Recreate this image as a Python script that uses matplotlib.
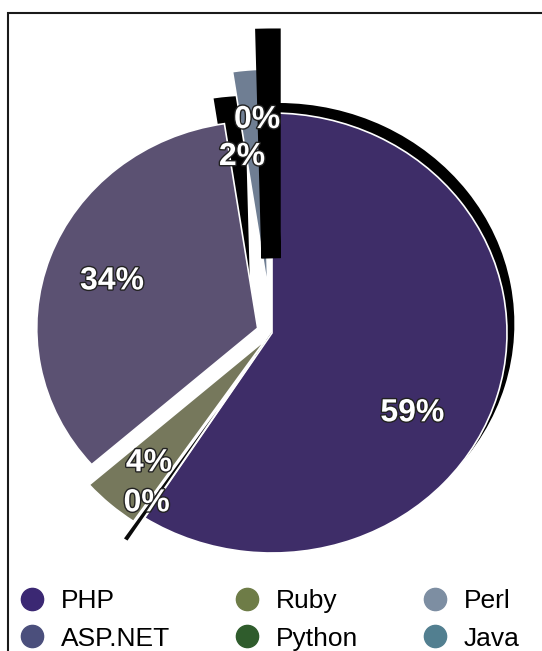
import matplotlib
matplotlib.use('Agg')
import matplotlib.pyplot as plt
import matplotlib.patheffects as pe
from matplotlib.lines import Line2D
from matplotlib.patches import Rectangle, Shadow
import numpy as np

# slices, clockwise from 12 o'clock
slices = ['PHP', 'Python', 'Ruby', 'ASP.NET', 'Perl', 'Java']
shares = [59, 0.4, 4, 34, 2, 0.4]
slice_colors = ['#3e2d68', '#0a0a0a', '#76785c', '#5b5172', '#6f7e93', '#0a0a0a']
explode = [0, 0.13, 0.04, 0.065, 0.2, 0.34]
slice_radius = [1, 1, 1, 0.94, 1, 1]

# legend (column-major order as in the picture)
legend_names = ['PHP', 'ASP.NET', 'Ruby', 'Python', 'Perl', 'Java']
legend_colors = ['#3b2873', '#4b4f7c', '#6e7c47', '#2f5c2c', '#7d8ea2', '#527f90']

# where the percentage labels sit (fraction of radius, degrees off the slice middle)
label_radius = [0.70, 0.94, 0.79, 0.72, 0.81, 0.97]
label_shift = [-15, -1, 0, 1, 4, 3]

W, H = 542, 651
fig = plt.figure(figsize=(W / 100, H / 100), dpi=100)
ax = fig.add_axes([0, 0, 1, 1])

# pie is slightly squashed (scanned 3D chart): radius 235 px wide, 220 px tall
cx, cy, rx, ry = 272, 333, 235, 220
wedges, texts, autotexts = ax.pie(
    shares, explode=explode, colors=slice_colors,
    startangle=90, counterclock=False,
    autopct=lambda p: f'{p:.0f}%',
    wedgeprops=dict(edgecolor='white', linewidth=1.2),
)
for w, r in zip(wedges, slice_radius):
    w.set_radius(r)
# the Java sliver shows as a wide black wall
wedges[5].set(edgecolor='black', linewidth=14)

# dark side walls of the 3D pie
for idx, ox, oy in [(0, 0.02, 0.03), (4, -0.055, -0.09)]:
    ax.add_patch(Shadow(wedges[idx], ox, oy, facecolor='black',
                        edgecolor='black', alpha=1, zorder=0.9))

for i, (w, t) in enumerate(zip(wedges, autotexts)):
    mid = np.deg2rad((w.theta1 + w.theta2) / 2 + label_shift[i])
    t.set_position((label_radius[i] * np.cos(mid), label_radius[i] * np.sin(mid)))
    t.set(color='white', fontsize=23, fontweight='bold', family='Liberation Sans',
          ha='center', va='center')
    t.set_path_effects([pe.withStroke(linewidth=2, foreground='#222222')])

ax.set_xlim(-cx / rx, (W - cx) / rx)
ax.set_ylim(-(H - cy) / ry, cy / ry)
ax.set_aspect('auto')
ax.axis('off')

handles = [Line2D([], [], marker='o', linestyle='none', markersize=16,
                  markerfacecolor=c, markeredgecolor=c) for c in legend_colors]
fig.legend(handles, legend_names, ncol=3, loc='center left',
           bbox_to_anchor=(19 / W, (H - 620) / H), frameon=False,
           prop=dict(family='Liberation Sans', size=19),
           handlelength=1.0, handletextpad=0.6, columnspacing=2.4,
           labelspacing=0.5, borderpad=0, borderaxespad=0)

# outer frame of the figure box
fig.add_artist(Rectangle((8 / W, -0.02), 1.0, (H - 13) / H + 0.02,
                         transform=fig.transFigure, fill=False,
                         linewidth=1.5, edgecolor='#1a1a1a'))

fig.savefig('out.png', dpi=100)
